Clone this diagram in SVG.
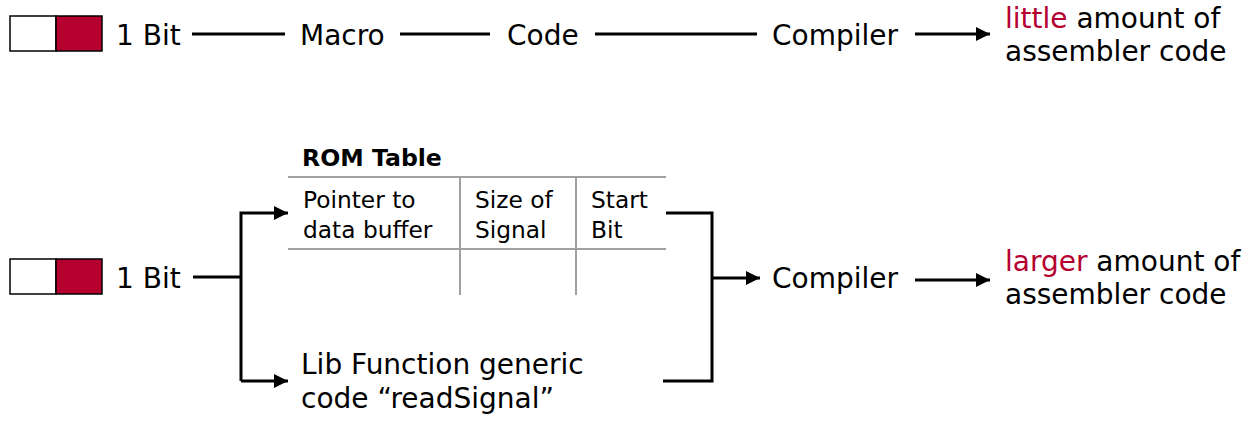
<svg xmlns="http://www.w3.org/2000/svg" width="1258" height="421" viewBox="0 0 1258 421">
<style>
text{font-family:"DejaVu Sans","Liberation Sans",sans-serif;fill:#000}
.t{font-size:28px}
.s{font-size:23.3px}
.b{font-size:23.6px;font-weight:bold}
.red{fill:#B5002F}
.ln{stroke:#000;stroke-width:3;fill:none}
.gr{stroke:#a0a0a0;stroke-width:2;fill:none}
</style>
<defs>
<marker id="ah" markerUnits="userSpaceOnUse" markerWidth="15" markerHeight="15" refX="14" refY="7" orient="auto">
<path d="M0,0 L14,7 L0,14 Z" fill="#000"/>
</marker>
</defs>
<rect width="1258" height="421" fill="#fff"/>
<g id="bit1">
<rect x="10" y="16" width="46" height="35" fill="#fff" stroke="#000" stroke-width="1.5"/>
<rect x="56" y="16" width="46" height="35" fill="#B5002F" stroke="#000" stroke-width="1.5"/>
<text class="t" x="116" y="45">1 Bit</text>
</g>
<g id="macro"><text class="t" x="300" y="45">Macro</text></g>
<g id="code"><text class="t" x="507" y="45">Code</text></g>
<g id="compiler1"><text class="t" x="772" y="45">Compiler</text></g>
<g id="out1">
<text class="t" x="1005" y="28"><tspan class="red">little</tspan> amount of</text>
<text class="t" x="1005" y="61">assembler code</text>
</g>
<g id="bit2">
<rect x="10" y="259" width="46" height="35" fill="#fff" stroke="#000" stroke-width="1.5"/>
<rect x="56" y="259" width="46" height="35" fill="#B5002F" stroke="#000" stroke-width="1.5"/>
<text class="t" x="116" y="288">1 Bit</text>
</g>
<g id="romtable">
<text class="b" x="302" y="166">ROM Table</text>
<line class="gr" x1="288" y1="177" x2="666" y2="177"/>
<line class="gr" x1="288" y1="249" x2="666" y2="249"/>
<line class="gr" x1="460" y1="177" x2="460" y2="295"/>
<line class="gr" x1="576" y1="177" x2="576" y2="295"/>
<text class="s" x="303" y="208">Pointer to</text>
<text class="s" x="303" y="238">data buffer</text>
<text class="s" x="475" y="208">Size of</text>
<text class="s" x="475" y="238">Signal</text>
<text class="s" x="591" y="208">Start</text>
<text class="s" x="591" y="238">Bit</text>
</g>
<g id="libfunc">
<text class="t" x="301" y="374">Lib Function generic</text>
<text class="t" x="301" y="408">code “readSignal”</text>
</g>
<g id="compiler2"><text class="t" x="772" y="288">Compiler</text></g>
<g id="out2">
<text class="t" x="1005" y="271"><tspan class="red">larger</tspan> amount of</text>
<text class="t" x="1005" y="304">assembler code</text>
</g>
<g id="connectors">
<line class="ln" x1="192" y1="34" x2="285" y2="34"/>
<line class="ln" x1="400" y1="34" x2="490" y2="34"/>
<line class="ln" x1="595" y1="34" x2="757" y2="34"/>
<line class="ln" x1="915" y1="34" x2="990" y2="34" marker-end="url(#ah)"/>
<line class="ln" x1="193" y1="277" x2="241" y2="277"/>
<polyline class="ln" points="241,381 241,213 288,213" marker-end="url(#ah)"/>
<line class="ln" x1="241" y1="381" x2="288" y2="381" marker-end="url(#ah)"/>
<polyline class="ln" points="666,213 712,213 712,381 663,381"/>
<line class="ln" x1="712" y1="278" x2="760" y2="278" marker-end="url(#ah)"/>
<line class="ln" x1="915" y1="280" x2="990" y2="280" marker-end="url(#ah)"/>
</g>
</svg>
